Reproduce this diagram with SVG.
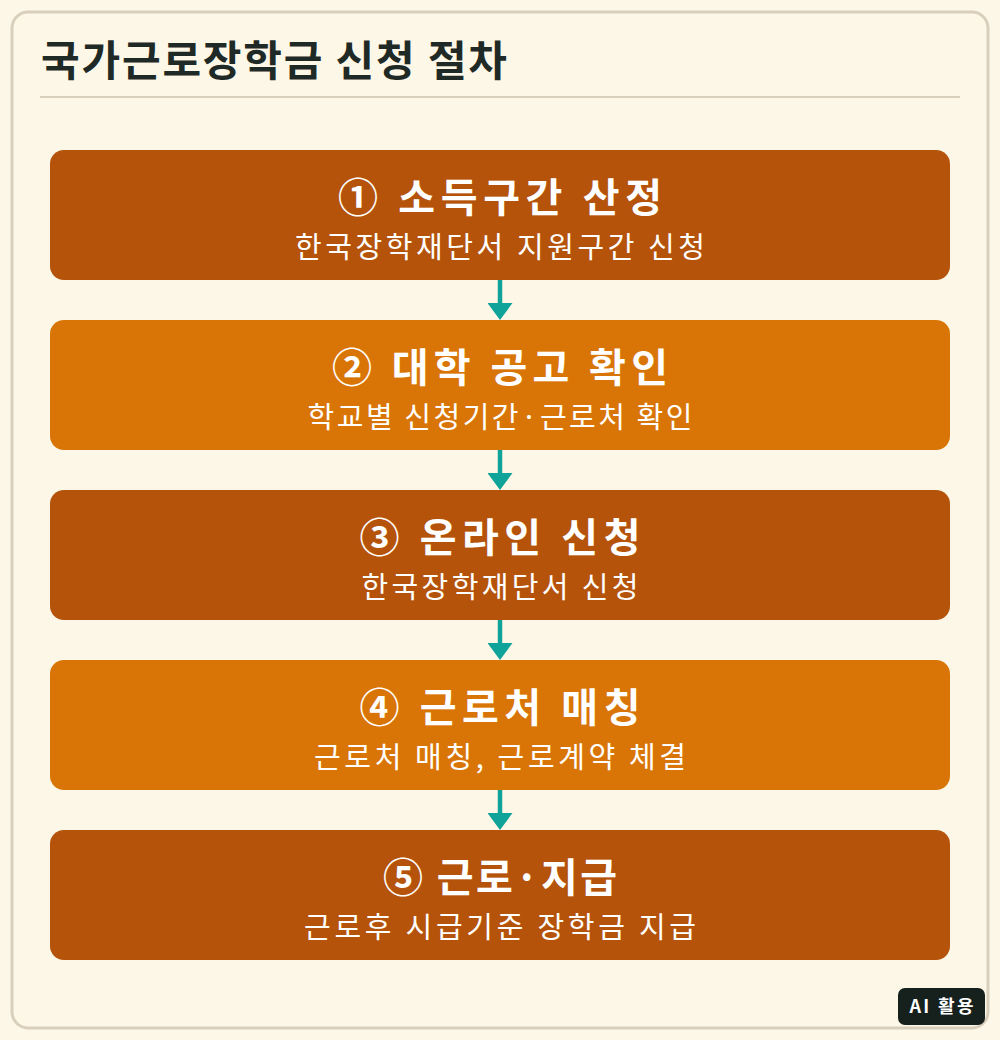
<svg xmlns="http://www.w3.org/2000/svg" width="1000" height="1040" viewBox="0 0 1000 1040">
<defs>
<style>
.t{font-family:"Noto Sans CJK KR","Noto Sans",sans-serif;fill:#fff;text-anchor:middle}
.h{font-size:40px;font-weight:700}
.s{font-size:29px;font-weight:400}
.dark{fill:#b5530a}
.light{fill:#d97506}
.conn{stroke:#0fa39a;stroke-width:4.5;fill:none}
</style>
<marker id="ah" markerWidth="17" markerHeight="25" refX="0" refY="12.5" orient="auto" markerUnits="userSpaceOnUse">
<path d="M0,0 L17,12.5 L0,25 Z" fill="#0fa39a"/>
</marker>
</defs>
<rect x="0" y="0" width="1000" height="1040" fill="#fdf7e7"/>
<rect x="12" y="12" width="976" height="1016" rx="16" fill="#fdf7e7" stroke="#d9cfbd" stroke-width="3"/>
<text x="41" y="76" textLength="466" lengthAdjust="spacing" style="font-family:'Noto Sans CJK KR','Noto Sans',sans-serif;font-size:42px;font-weight:700;fill:#1f2a26">국가근로장학금 신청 절차</text>
<line x1="40" y1="97" x2="960" y2="97" stroke="#d9cfbd" stroke-width="2"/>
<g id="connectors">
<line class="conn" x1="500" y1="280" x2="500" y2="303" marker-end="url(#ah)"/>
<line class="conn" x1="500" y1="450" x2="500" y2="473" marker-end="url(#ah)"/>
<line class="conn" x1="500" y1="620" x2="500" y2="643" marker-end="url(#ah)"/>
<line class="conn" x1="500" y1="790" x2="500" y2="813" marker-end="url(#ah)"/>
</g>
<g id="step1">
<rect class="dark" x="50" y="150" width="900" height="130" rx="14"/>
<text class="t h" x="500" y="212" textLength="324" lengthAdjust="spacing">① 소득구간 산정</text>
<text class="t s" x="500" y="258" textLength="410" lengthAdjust="spacing">한국장학재단서 지원구간 신청</text>
</g>
<g id="step2">
<rect class="light" x="50" y="320" width="900" height="130" rx="14"/>
<text class="t h" x="500" y="382" textLength="336" lengthAdjust="spacing">② 대학 공고 확인</text>
<text class="t s" x="500" y="428" textLength="385" lengthAdjust="spacing">학교별 신청기간·근로처 확인</text>
</g>
<g id="step3">
<rect class="dark" x="50" y="490" width="900" height="130" rx="14"/>
<text class="t h" x="500" y="552" textLength="281" lengthAdjust="spacing">③ 온라인 신청</text>
<text class="t s" x="500" y="598" textLength="277" lengthAdjust="spacing">한국장학재단서 신청</text>
</g>
<g id="step4">
<rect class="light" x="50" y="660" width="900" height="130" rx="14"/>
<text class="t h" x="500" y="722" textLength="281" lengthAdjust="spacing">④ 근로처 매칭</text>
<text class="t s" x="500" y="768" textLength="372" lengthAdjust="spacing">근로처 매칭, 근로계약 체결</text>
</g>
<g id="step5">
<rect class="dark" x="50" y="830" width="900" height="130" rx="14"/>
<text class="t h" x="500" y="892" textLength="234" lengthAdjust="spacing">⑤ 근로·지급</text>
<text class="t s" x="500" y="938" textLength="392" lengthAdjust="spacing">근로후 시급기준 장학금 지급</text>
</g>
<g id="badge">
<rect x="898" y="988" width="87" height="37" rx="7" fill="#16201d"/>
<text x="941.5" y="1013" textLength="64" lengthAdjust="spacing" style="font-family:'Noto Sans CJK KR','Noto Sans',sans-serif;font-size:18px;font-weight:700;fill:#fff;text-anchor:middle">AI 활용</text>
</g>
</svg>
